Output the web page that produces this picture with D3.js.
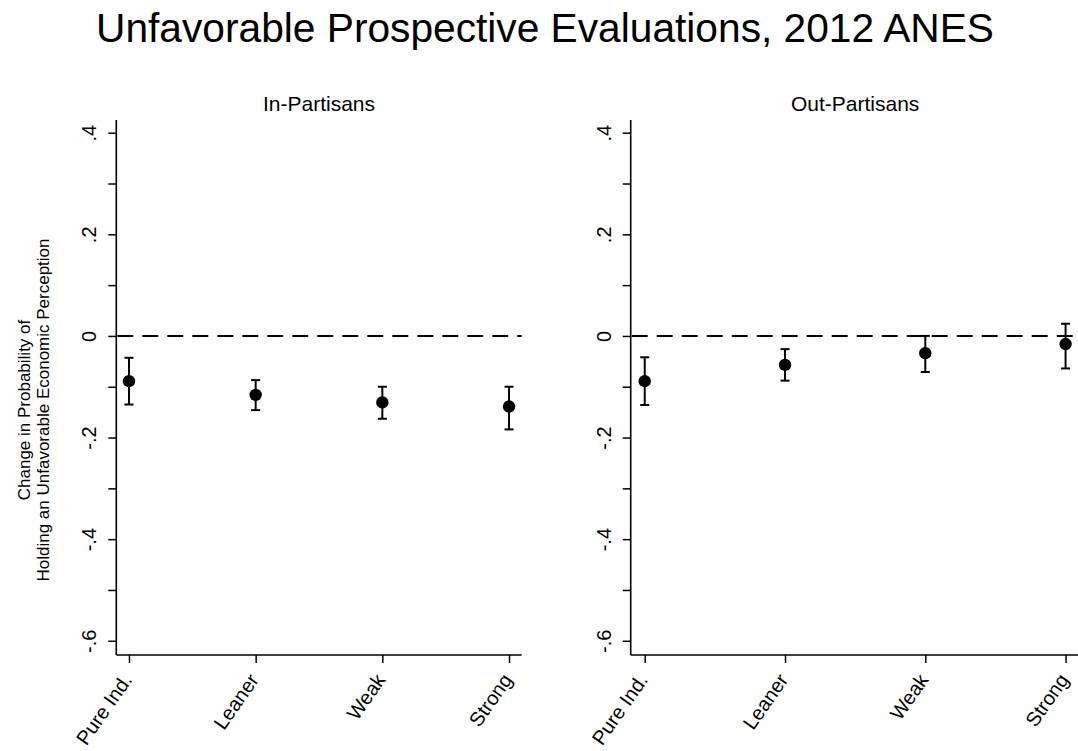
<!DOCTYPE html>
<html>
<head>
<meta charset="utf-8">
<script src="https://cdn.jsdelivr.net/npm/d3@7"></script>
<style>
  html, body { margin: 0; padding: 0; background: #fff; }
  svg { display: block; font-family: "Liberation Sans", Arial, Helvetica, sans-serif; }
</style>
</head>
<body>
<svg id="chart" width="1078" height="751"></svg>
<script>
// ---- Data ----
const categories = ["Pure Ind.", "Leaner", "Weak", "Strong"];
const panelTitles = ["In-Partisans", "Out-Partisans"];
const inEst = [-0.089, -0.116, -0.131, -0.139];
const inLo  = [-0.135, -0.146, -0.163, -0.184];
const inHi  = [-0.043, -0.087, -0.100, -0.100];
const outEst = [-0.089, -0.057, -0.034, -0.016];
const outLo  = [-0.136, -0.088, -0.071, -0.064];
const outHi  = [-0.042, -0.026, 0.000, 0.024];
const yMajorTicks = [-0.6, -0.4, -0.2, 0, 0.2, 0.4];
const yMajorLabels = ["-.6", "-.4", "-.2", "0", ".2", ".4"];
const yMinorTicks = [-0.5, -0.3, -0.1, 0.1, 0.3];
const mainTitle = "Unfavorable Prospective Evaluations, 2012 ANES";
const yTitleLines = ["Change in Probability of", "Holding an Unfavorable Economic Perception"];

// ---- Layout ----
const svg = d3.select("#chart");
const plotTop = 120, plotBottom = 655;
const panels = [
  { left: 116.3, right: 521.7, est: inEst, lo: inLo, hi: inHi, title: panelTitles[0] },
  { left: 630.7, right: 1079.6, est: outEst, lo: outLo, hi: outHi, title: panelTitles[1] }
];
const y = d3.scaleLinear().domain([-0.628, 0.425]).range([plotBottom, plotTop]);

svg.append("text")
  .attr("x", 545).attr("y", 41.5)
  .attr("text-anchor", "middle")
  .attr("font-size", 40.7)
  .attr("fill", "#000")
  .text(mainTitle);

// Y-axis title
const yt = svg.append("g");
yTitleLines.forEach((t, i) => {
  yt.append("text")
    .attr("transform", `translate(${30 + i * 19},410) rotate(-90)`)
    .attr("text-anchor", "middle")
    .attr("font-size", 17)
    .attr("fill", "#000")
    .text(t);
});

panels.forEach(p => {
  const g = svg.append("g");
  const x = d3.scalePoint().domain(categories).range([p.left, p.right]).padding(0.1);

  // panel title
  g.append("text")
    .attr("x", (p.left + p.right) / 2).attr("y", 111)
    .attr("text-anchor", "middle")
    .attr("font-size", 21)
    .attr("fill", "#000")
    .text(p.title);

  // y axis
  const yAxis = d3.axisLeft(y).tickValues(yMajorTicks)
    .tickFormat((d, i) => yMajorLabels[i]).tickSize(8);
  const ya = g.append("g").attr("transform", `translate(${p.left},0)`).call(yAxis);
  ya.select(".domain").remove();
  ya.selectAll(".tick line").attr("stroke", "#000").attr("stroke-width", 1.5);
  ya.selectAll(".tick text")
    .attr("font-size", 20).attr("fill", "#000")
    .attr("font-family", "Liberation Sans, Arial, sans-serif")
    .attr("text-anchor", "middle")
    .attr("dy", null)
    .attr("x", null)
    .attr("y", null)
    .attr("transform", "translate(-20,0) rotate(-90)");
  const yMinor = d3.axisLeft(y).tickValues(yMinorTicks).tickFormat("").tickSize(8);
  const ym = g.append("g").attr("transform", `translate(${p.left},0)`).call(yMinor);
  ym.select(".domain").remove();
  ym.selectAll(".tick line").attr("stroke", "#000").attr("stroke-width", 1.5);

  g.append("line")
    .attr("x1", p.left).attr("x2", p.left)
    .attr("y1", plotTop).attr("y2", plotBottom)
    .attr("stroke", "#000").attr("stroke-width", 1.6);

  // x axis
  const xAxis = d3.axisBottom(x).tickSize(8).tickFormat("");
  const xa = g.append("g").attr("transform", `translate(0,${plotBottom})`).call(xAxis);
  xa.select(".domain").remove();
  xa.selectAll(".tick line").attr("stroke", "#000").attr("stroke-width", 1.5);
  g.append("line")
    .attr("x1", p.left).attr("x2", p.right)
    .attr("y1", plotBottom).attr("y2", plotBottom)
    .attr("stroke", "#000").attr("stroke-width", 1.6);
  g.selectAll("text.xlab").data(categories).enter().append("text")
    .attr("class", "xlab")
    .attr("transform", d => `translate(${x(d) + 4},${plotBottom + 25}) rotate(-55)`)
    .attr("text-anchor", "end")
    .attr("font-size", 20)
    .attr("fill", "#000")
    .text(d => d);

  // zero reference line
  g.append("line")
    .attr("x1", p.left).attr("x2", p.right)
    .attr("y1", y(0)).attr("y2", y(0))
    .attr("stroke", "#000").attr("stroke-width", 2)
    .attr("stroke-dasharray", "16,9")
    .attr("stroke-dashoffset", -1);

  // error bars
  const idx = d3.range(categories.length);
  const cap = 4.5;
  g.selectAll("line.eb").data(idx).enter().append("line")
    .attr("x1", i => x(categories[i])).attr("x2", i => x(categories[i]))
    .attr("y1", i => y(p.lo[i])).attr("y2", i => y(p.hi[i]))
    .attr("stroke", "#000").attr("stroke-width", 2);
  g.selectAll("line.capH").data(idx).enter().append("line")
    .attr("x1", i => x(categories[i]) - cap).attr("x2", i => x(categories[i]) + cap)
    .attr("y1", i => y(p.hi[i])).attr("y2", i => y(p.hi[i]))
    .attr("stroke", "#000").attr("stroke-width", 2);
  g.selectAll("line.capL").data(idx).enter().append("line")
    .attr("x1", i => x(categories[i]) - cap).attr("x2", i => x(categories[i]) + cap)
    .attr("y1", i => y(p.lo[i])).attr("y2", i => y(p.lo[i]))
    .attr("stroke", "#000").attr("stroke-width", 2);
  g.selectAll("circle.pt").data(idx).enter().append("circle")
    .attr("cx", i => x(categories[i]))
    .attr("cy", i => y(p.est[i]))
    .attr("r", 6.2)
    .attr("fill", "#000");
});
</script>
</body>
</html>
